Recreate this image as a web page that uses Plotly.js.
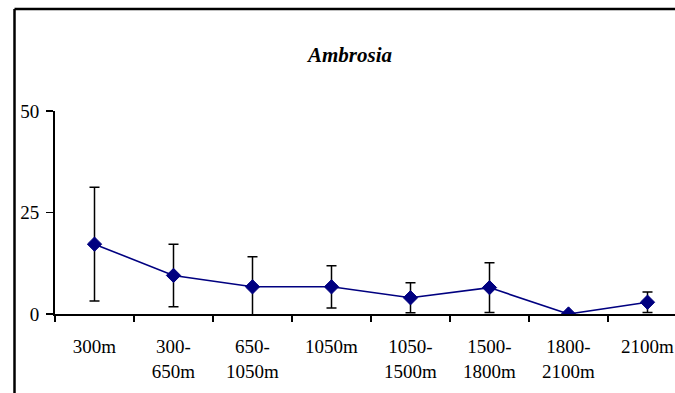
<!DOCTYPE html>
<html>
<head>
<meta charset="utf-8">
<script src="https://cdn.plot.ly/plotly-3.0.1.min.js"></script>
<style>
  html, body { margin: 0; padding: 0; overflow: hidden; background: #fff; }
  #chart { width: 675px; height: 393px; }
</style>
</head>
<body>
<div id="chart"></div>
<script>
// Data
const categories = ['300m', '300-<br>650m', '650-<br>1050m', '1050m', '1050-<br>1500m', '1500-<br>1800m', '1800-<br>2100m', '2100m'];
const means = [17.2, 9.5, 6.7, 6.7, 4.0, 6.5, 0, 2.9];
const errors = [14.0, 7.7, 7.4, 5.2, 3.7, 6.1, 0, 2.5];
const yTicks = [0, 25, 50];
const chartTitle = 'Ambrosia';

const W = 675, H = 393;
const L = 55, R = 0, T = 111, B = 79;
const plotW = W - L - R, plotH = H - T - B;
const catW = 79; // pixel width of one category in the reference
const px = (p) => (p - L) / plotW;
const py = (p) => (H - B - p) / plotH;
const FONT = "'Liberation Serif', 'Times New Roman', Times, serif";

const trace = {
  type: 'scatter',
  mode: 'lines+markers',
  x: categories,
  y: means,
  line: { color: '#000080', width: 1.6 },
  marker: { symbol: 'diamond', size: 11, color: '#000080', line: { color: '#000080', width: 1 } },
  error_y: { type: 'data', array: errors, visible: true, color: '#000000', thickness: 1.5, width: 5 },
  cliponaxis: true,
  showlegend: false
};

const layout = {
  width: W, height: H,
  margin: { l: L, r: R, t: T, b: B, pad: 0 },
  paper_bgcolor: '#ffffff',
  plot_bgcolor: '#ffffff',
  font: { family: FONT, size: 18.5, color: '#000000' },
  title: {
    text: '<b><i>' + chartTitle + '</i></b>',
    font: { family: FONT, size: 21, color: '#000000' },
    x: px(350), xref: 'paper', xanchor: 'center',
    y: 1 - 55 / H, yref: 'container', yanchor: 'middle'
  },
  xaxis: {
    type: 'category',
    range: [-0.5, -0.5 + plotW / catW],
    showline: true, linecolor: '#000000', linewidth: 2,
    ticks: 'outside', tickson: 'boundaries', ticklen: 6, tickwidth: 1.5, tickcolor: '#000000',
    showgrid: false, zeroline: false,
    tickfont: { family: FONT, size: 19 },
    ticklabelstandoff: 14
  },
  yaxis: {
    range: [0, 50],
    tickvals: yTicks,
    ticktext: yTicks.map(String),
    showline: true, linecolor: '#000000', linewidth: 2,
    ticks: 'outside', ticklen: 7, tickwidth: 1.5, tickcolor: '#000000',
    showgrid: false, zeroline: false,
    tickfont: { family: FONT, size: 19 },
    ticklabelstandoff: 3
  },
  shapes: [{
    type: 'line', xref: 'paper', yref: 'paper', layer: 'above',
    x0: px(14.5), x1: px(14.5), y0: py(H + 5), y1: py(9),
    line: { color: '#000000', width: 2.5 }
  }, {
    type: 'line', xref: 'paper', yref: 'paper', layer: 'above',
    x0: px(14.5), x1: px(W + 5), y0: py(9), y1: py(9),
    line: { color: '#000000', width: 2.5 }
  }]
};

Plotly.newPlot('chart', [trace], layout, { displayModeBar: false, staticPlot: true });
</script>
</body>
</html>
